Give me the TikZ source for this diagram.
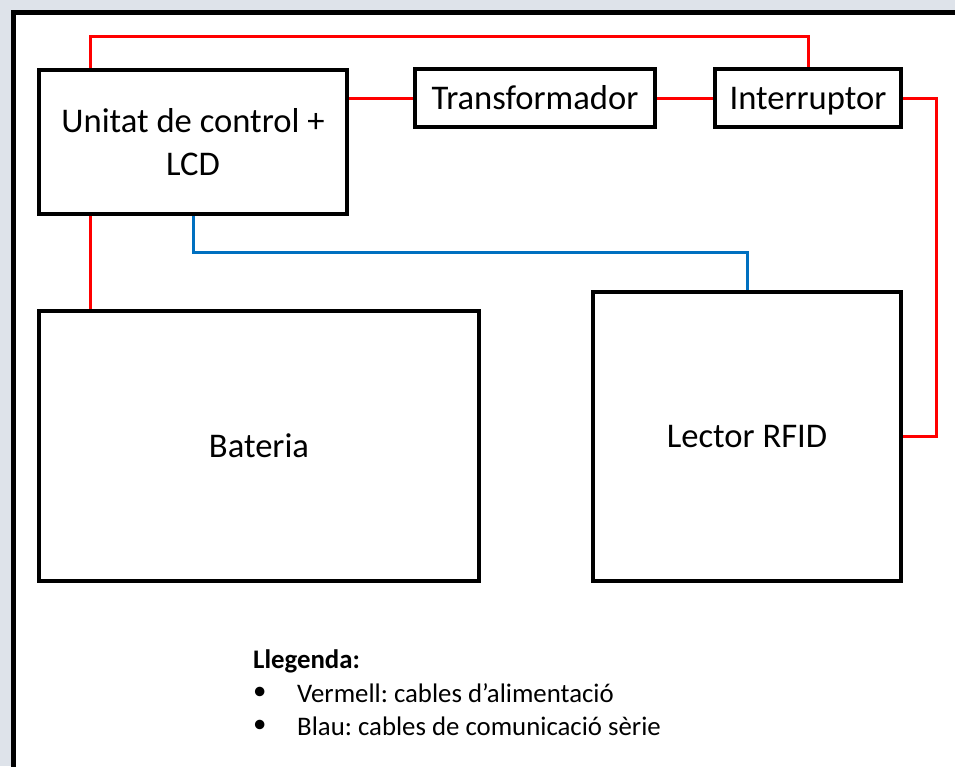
\documentclass[tikz,border=0pt]{standalone}
\usepackage{fontspec}
\setmainfont{Carlito}
\usetikzlibrary{positioning}
\frenchspacing
\definecolor{cablered}{RGB}{255,0,0}
\definecolor{cableblue}{RGB}{0,112,192}
\definecolor{backdrop}{RGB}{222,227,234}
\tikzset{
  block/.style={draw=black, line width=3.5pt, fill=white, align=center, inner sep=0pt,
    font=\fontsize{34.6}{43}\selectfont},
  oneline/.style={block, text height=28pt, text depth=5.7pt},
  power/.style={draw=cablered, line width=3pt},
  serial/.style={draw=cableblue, line width=3pt},
  legendtext/.style={anchor=west, inner sep=0pt, font=\fontsize{26.8}{30}\selectfont},
}
\begin{document}
\begin{tikzpicture}[x=1pt,y=-1pt]
    \clip (0,0) rectangle (955,766);
    \fill[backdrop] (0,0) rectangle (955,766);
    \draw[line width=5pt, fill=white] (13,12) rectangle (990,800);
    % blocks
    \node[block, minimum width=308pt, minimum height=144pt] (control) at (193,142) {Unitat de control +\\LCD};
    \node[oneline, minimum width=240pt, minimum height=58pt] (trafo) at (535,98) {Transformador};
    \node[oneline, minimum width=186pt, minimum height=58pt] (switch) at (808,98) {Interruptor};
    \node[oneline, minimum width=440pt, minimum height=270pt] (battery) at (259,446) {Bateria};
    \node[oneline, minimum width=308pt, minimum height=289pt] (rfid) at (747,436.5) {Lector RFID};
    % cables
    \coordinate (topbend) at (90,36);
    \coordinate (rightbend) at (936,98);
    \coordinate (busbend) at (193,252);
    \draw[power] (control.north -| topbend) -- (topbend) -| (switch.north);
    \draw[power] (control.east |- trafo) -- (trafo.west);
    \draw[power] (trafo) -- (switch);
    \draw[power] (switch.east) -- (rightbend) |- (rfid.east);
    \draw[power] (control.south -| topbend) -- (battery.north -| topbend);
    \draw[serial] (control.south -| busbend) -- (busbend) -| (rfid.north);
    % legend
    \node[legendtext] (legtitle) at (253,661) {\textbf{Llegenda:}};
    \node[legendtext] (bulleta) at (253,693) {\textbullet};
    \node[legendtext] (itema) at (297,693) {Vermell: cables d’alimentació};
    \node[legendtext] (bulletb) at (253,726) {\textbullet};
    \node[legendtext] (itemb) at (297,726) {Blau: cables de comunicació sèrie};
\end{tikzpicture}
\end{document}
